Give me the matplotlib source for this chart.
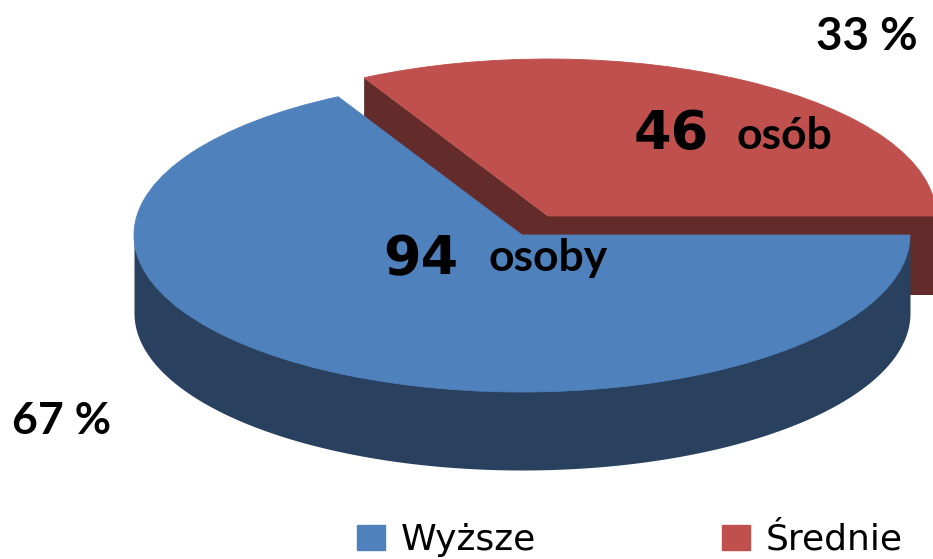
import numpy as np
import matplotlib
matplotlib.use("Agg")
import matplotlib.pyplot as plt
from matplotlib.patches import Patch

categories = ["Wyższe", "Średnie"]
counts = [94, 46]
count_words = ["osoby", "osób"]
percent_labels = ["67 %", "33 %"]
colors = ["#4F81BD", "#C0504D"]
side_colors = ["#29415F", "#632B2A"]

W, H = 933, 559
RX, RY, DEPTH = 388, 157, 78
SQ = RY / RX
blue_c = (522, 235)
red_c = (548, 216)

fig = plt.figure(figsize=(W / 100, H / 100), dpi=100)
ax = fig.add_axes([0, 0, 1, 1])

split = 360 * counts[0] / sum(counts)


def py(y):
    return -np.asarray(y, dtype=float) / SQ


def ell(c, deg):
    t = np.radians(deg)
    return c[0] + RX * np.cos(t), c[1] + RY * np.sin(t)


# red: straight wall at the right and inner cut wall
ax.fill_between([red_c[0], W + 10], py(red_c[1]), py(red_c[1] + 79),
                color=side_colors[1], lw=0, zorder=1)
ex, ey = ell(red_c, split)
ax.fill([ex, red_c[0], red_c[0], ex],
        [py(ey), py(red_c[1]), py(red_c[1] + DEPTH), py(ey + DEPTH)],
        color=side_colors[1], lw=0, zorder=1)

# red top via a pie slice
w_red, _ = ax.pie([counts[1], counts[0]], startangle=0, colors=[colors[1], "none"],
                  center=(red_c[0], py(red_c[1])), radius=RX,
                  wedgeprops=dict(lw=0, zorder=2), frame=True)
w_red[0].set_edgecolor(colors[1])
w_red[0].set_linewidth(0.6)

# blue outer wall (upper edge tucked under the top face)
tt = np.linspace(0, 180, 200)
ex, ey = ell(blue_c, tt)
ax.fill_between(ex, py(blue_c[1] + (ey - blue_c[1]) * 0.95), py(ey + DEPTH),
                color=side_colors[0], lw=0, zorder=3)

# blue top via a pie slice
w_blue, _ = ax.pie([counts[1], counts[0]], startangle=0, colors=["none", colors[0]],
                   center=(blue_c[0], py(blue_c[1])), radius=RX,
                   wedgeprops=dict(lw=0, zorder=4), frame=True)
w_blue[1].set_edgecolor(colors[0])
w_blue[1].set_linewidth(0.6)

ax.set_aspect("auto")
ax.set_xlim(0, W)
ax.set_ylim(py(H), 0)
ax.axis("off")


def label(x, y, s, size, family="Lato"):
    ax.text(x, py(y), s, fontsize=size, fontweight="bold", family=family,
            ha="center", va="center", color="black", zorder=6)


label(421, 259, str(counts[0]), 39, "DejaVu Sans")
label(548, 258, count_words[0], 32)
label(671, 134, str(counts[1]), 39, "DejaVu Sans")
label(784, 136, count_words[1], 32)
label(62, 421, percent_labels[0], 32)
label(867, 37, percent_labels[1], 33)

handles = [Patch(color=colors[0]), Patch(color=colors[1])]
fig.legend(handles, categories, ncol=2, frameon=False,
           loc="center left", bbox_to_anchor=(357 / W, 1 - 540 / H),
           handlelength=0.78, handleheight=0.68, handletextpad=0.42,
           columnspacing=5.17, borderpad=0, borderaxespad=0,
           prop=dict(family="DejaVu Sans", size=26))

fig.savefig("out.png", dpi=100)
